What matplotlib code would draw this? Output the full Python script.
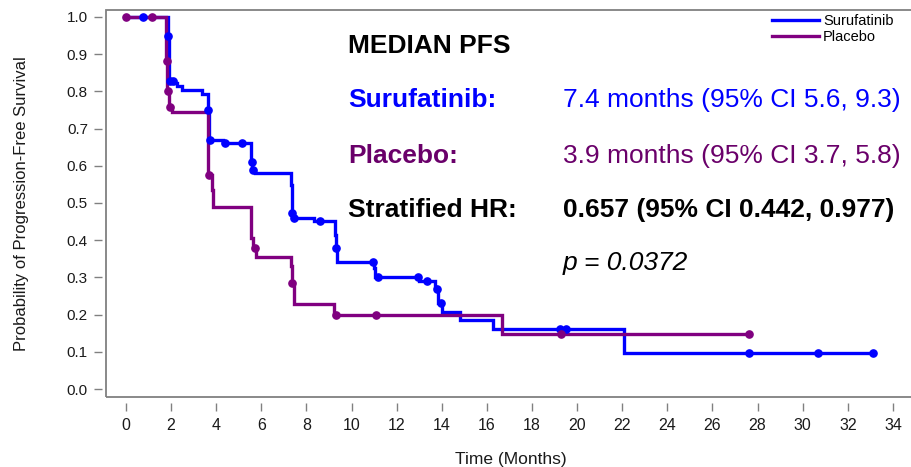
import numpy as np
import matplotlib
matplotlib.use("Agg")
import matplotlib.pyplot as plt
from matplotlib.patches import Rectangle

plt.rcParams['font.family'] = ['Liberation Sans', 'DejaVu Sans']

# ---- data ----
suru_t = [0, 1.85, 1.87, 1.92, 2.17, 2.25, 2.5, 3.35, 3.63, 3.68, 4.3, 5.55, 5.6, 5.7,
          7.3, 7.35, 7.42, 8.35, 9.26, 9.3, 9.35, 11.0, 11.05, 13.0, 13.7, 13.75, 13.85,
          14.0, 14.8, 16.28, 22.07]
suru_s = [1.0, 0.974, 0.949, 0.829, 0.823, 0.815, 0.804, 0.793, 0.75, 0.669, 0.66, 0.611,
          0.589, 0.58, 0.548, 0.473, 0.46, 0.452, 0.414, 0.378, 0.342, 0.325, 0.302, 0.289,
          0.275, 0.268, 0.23, 0.208, 0.186, 0.16, 0.096]
suru_end = 33.13
suru_cens = [0.74, 1.88, 1.95, 2.07, 3.65, 3.72, 4.39, 5.13, 5.57, 5.65, 7.38, 7.45, 8.6,
             9.32, 10.96, 11.18, 12.96, 13.33, 13.8, 13.95, 19.24, 19.5, 27.6, 30.7, 33.13]

plac_t = [0, 1.78, 1.82, 1.9, 2.05, 3.65, 3.8, 3.85, 5.55, 5.65, 5.75, 7.3, 7.35, 7.45,
          9.22, 16.65]
plac_s = [1.0, 0.883, 0.80, 0.759, 0.745, 0.575, 0.535, 0.49, 0.405, 0.379, 0.356, 0.33,
          0.284, 0.228, 0.199, 0.148]
plac_end = 27.6
plac_cens = [0.0, 1.14, 1.8, 1.85, 1.95, 3.7, 5.7, 7.38, 9.3, 11.1, 19.3, 27.6]

series_names = ["Surufatinib", "Placebo"]
x_ticks = list(range(0, 35, 2))
y_ticks = [round(0.1 * i, 1) for i in range(11)]

BLUE = "#0000ff"
PURPLE = "#800080"
PURPLE_TXT = "#6a006a"

W, H = 912, 467
fig = plt.figure(figsize=(W / 100, H / 100), dpi=100)
ax = fig.add_axes([106 / W, (H - 397) / H, (915 - 106) / W, (397 - 10) / H])
ax.set_xlim(-0.887, 34.98)
ax.set_ylim(-0.0215, 1.0188)


def draw_km(t, s, end, cens, color, label):
    tt = list(t) + [end]
    ss = list(s) + [s[-1]]
    ax.step(tt, ss, where='post', color=color, lw=2.4, label=label,
            solid_joinstyle='miter', zorder=3)
    idx = np.searchsorted(np.array(t), np.array(cens), side='right') - 1
    cs = np.array(s)[idx]
    ax.plot(cens, cs, 'o', color=color, ms=5.2, zorder=4)


draw_km(suru_t, suru_s, suru_end, suru_cens, BLUE, series_names[0])
draw_km(plac_t, plac_s, plac_end, plac_cens, PURPLE, series_names[1])

# frame & axes
for sp in ax.spines.values():
    sp.set_visible(False)
ax.spines['left'].set_position(('outward', 3))
ax.spines['bottom'].set_position(('outward', 4))
ax.add_patch(Rectangle((0, 0), 1, 1, transform=ax.transAxes, fill=False,
                       edgecolor='#808080', lw=1.3, clip_on=False, zorder=1))

ax.set_xticks(x_ticks)
ax.set_xticklabels([str(v) for v in x_ticks])
ax.set_yticks(y_ticks)
ax.set_yticklabels([f"{v:.1f}" for v in y_ticks])
ax.tick_params(axis='both', direction='out', length=6, width=1.0, color='#808080',
               labelcolor='#1a1a1a', labelsize=11)
ax.tick_params(axis='x', pad=5, labelsize=11.5)
ax.tick_params(axis='y', pad=4)

ax.set_xlabel("Time (Months)", fontsize=12.5, color='#1a1a1a', labelpad=14)
ax.set_ylabel("Probability of Progression-Free Survival", fontsize=12,
              color='#1a1a1a', labelpad=27)

leg = ax.legend(loc='upper left', bbox_to_anchor=(762 / W, 1 - 4 / H),
                bbox_transform=fig.transFigure, frameon=False, fontsize=10.5,
                handlelength=3.2, handletextpad=0.3, labelspacing=0.1,
                borderpad=0.2)
for line in leg.get_lines():
    line.set_linewidth(2.4)


def ftext(x, y, s, **kw):
    fig.text(x / W, 1 - y / H, s, va='baseline', ha='left', **kw)


FS = 19
ftext(348, 53, "MEDIAN PFS", fontsize=FS, fontweight='bold', color='black')
ftext(348, 107, "Surufatinib:", fontsize=FS, fontweight='bold', color=BLUE)
ftext(563, 107, "7.4 months (95% CI 5.6, 9.3)", fontsize=FS, color=BLUE)
ftext(348, 163, "Placebo:", fontsize=FS, fontweight='bold', color=PURPLE_TXT)
ftext(563, 163, "3.9 months (95% CI 3.7, 5.8)", fontsize=FS, color=PURPLE_TXT)
ftext(348, 217, "Stratified HR:", fontsize=FS, fontweight='bold', color='black')
ftext(563, 217, "0.657 (95% CI 0.442, 0.977)", fontsize=FS, fontweight='bold', color='black')
ftext(563, 270, "p = 0.0372", fontsize=FS, fontstyle='italic', color='black')

fig.savefig("out.png", dpi=100)
